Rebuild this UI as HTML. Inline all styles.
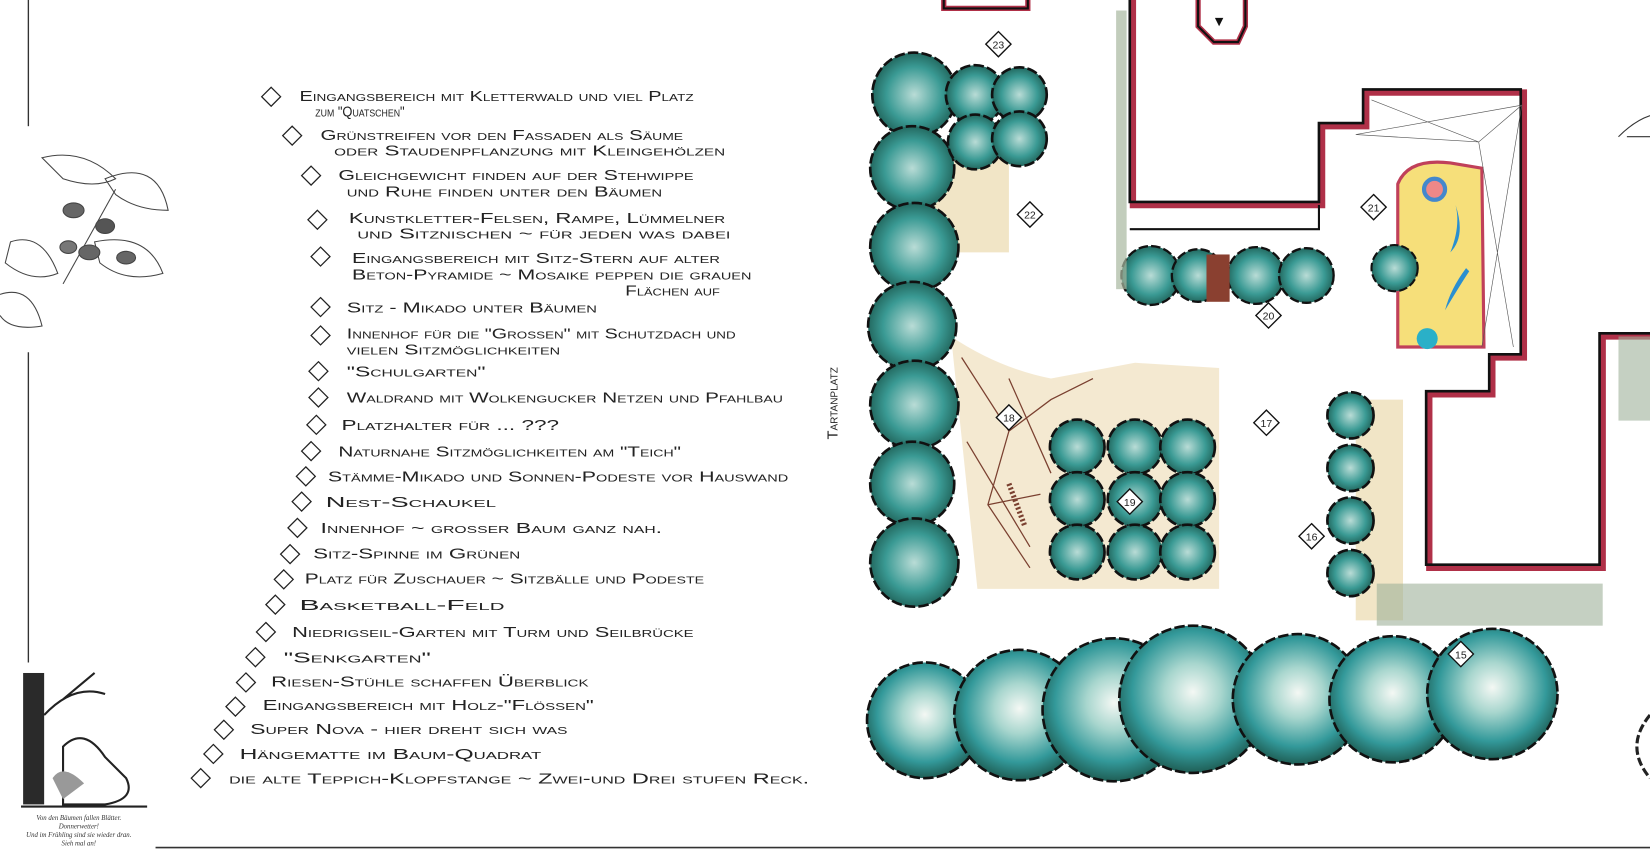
<!DOCTYPE html>
<html><head><meta charset="utf-8"><style>
html,body{margin:0;padding:0;background:#fff;}
svg{display:block}
.t{font-family:"Liberation Sans",sans-serif;font-size:14px;fill:#222;font-variant:small-caps}
.n{font-family:"Liberation Sans",sans-serif;font-size:10px;fill:#222}
</style></head><body>
<svg width="1650" height="857" viewBox="0 0 1570 815" preserveAspectRatio="none" xmlns="http://www.w3.org/2000/svg">
<defs>
<radialGradient id="tr" cx="50%" cy="45%" r="55%">
<stop offset="0" stop-color="#f4f8f4"/><stop offset="0.35" stop-color="#a8d6ce"/><stop offset="0.75" stop-color="#33999a"/><stop offset="1" stop-color="#1f5e55"/></radialGradient>
<radialGradient id="tr2" cx="50%" cy="50%" r="55%">
<stop offset="0" stop-color="#b9dcd6"/><stop offset="0.6" stop-color="#3a9a94"/><stop offset="1" stop-color="#1c5a50"/></radialGradient>
</defs>
<rect width="1570" height="815" fill="#fff"/>
<line x1="27" y1="0" x2="27" y2="120" stroke="#333" stroke-width="1.3"/>
<line x1="27" y1="335" x2="27" y2="630" stroke="#333" stroke-width="1.3"/>
<line x1="148" y1="806" x2="1570" y2="806" stroke="#333" stroke-width="1.5"/>
<g stroke="#444" fill="none" stroke-width="1">
<path d="M40 150 Q80 140 110 170 Q90 180 60 170Z"/><path d="M100 170 Q150 150 160 200 Q130 200 110 185Z"/>
<path d="M10 230 Q40 220 55 260 Q30 270 5 250Z"/><path d="M0 280 Q30 270 40 310 Q10 315 0 300"/>
<path d="M90 230 Q140 220 155 260 Q120 270 95 250Z"/><path d="M60 270 L110 180"/>
<ellipse cx="70" cy="200" rx="10" ry="7" fill="#666"/><ellipse cx="85" cy="240" rx="10" ry="7" fill="#666"/><ellipse cx="100" cy="215" rx="9" ry="7" fill="#555"/><ellipse cx="65" cy="235" rx="8" ry="6" fill="#777"/><ellipse cx="120" cy="245" rx="9" ry="6" fill="#666"/>
</g>
<rect x="22" y="640" width="20" height="125" fill="#2a2a2a"/>
<path d="M42 680 Q70 650 100 660 M60 665 L90 640" stroke="#222" stroke-width="2" fill="none"/>
<path d="M60 710 Q80 690 100 720 L120 740 Q130 760 100 765 L60 765Z" fill="#fff" stroke="#222" stroke-width="2"/>
<path d="M50 740 Q60 725 80 745 L60 760Z" fill="#999"/>
<line x1="20" y1="767" x2="140" y2="767" stroke="#222" stroke-width="2"/>
<text x="75" y="780" text-anchor="middle" font-family="Liberation Serif" font-style="italic" font-size="6.5" fill="#333">Von den Bäumen fallen Blätter.</text>
<text x="75" y="788" text-anchor="middle" font-family="Liberation Serif" font-style="italic" font-size="6.5" fill="#333">Donnerwetter!</text>
<text x="75" y="796" text-anchor="middle" font-family="Liberation Serif" font-style="italic" font-size="6.5" fill="#333">Und im Frühling sind sie wieder dran.</text>
<text x="75" y="804" text-anchor="middle" font-family="Liberation Serif" font-style="italic" font-size="6.5" fill="#333">Sieh mal an!</text>
<g>
<g fill="none" stroke="#222" stroke-width="1.2">
<path d="M258 83 l9 9 -9 9 -9 -9z"/><path d="M278 120 l9 9 -9 9 -9 -9z"/><path d="M296 158 l9 9 -9 9 -9 -9z"/><path d="M302 200 l9 9 -9 9 -9 -9z"/><path d="M305 235 l9 9 -9 9 -9 -9z"/><path d="M305 283 l9 9 -9 9 -9 -9z"/><path d="M305 310 l9 9 -9 9 -9 -9z"/><path d="M303 344 l9 9 -9 9 -9 -9z"/><path d="M303 369 l9 9 -9 9 -9 -9z"/><path d="M301 395 l9 9 -9 9 -9 -9z"/><path d="M296 420 l9 9 -9 9 -9 -9z"/><path d="M291 444 l9 9 -9 9 -9 -9z"/><path d="M287 468 l9 9 -9 9 -9 -9z"/><path d="M283 493 l9 9 -9 9 -9 -9z"/><path d="M276 518 l9 9 -9 9 -9 -9z"/><path d="M270 542 l9 9 -9 9 -9 -9z"/><path d="M262 566 l9 9 -9 9 -9 -9z"/><path d="M253 592 l9 9 -9 9 -9 -9z"/><path d="M243 616 l9 9 -9 9 -9 -9z"/><path d="M234 640 l9 9 -9 9 -9 -9z"/><path d="M224 663 l9 9 -9 9 -9 -9z"/><path d="M213 685 l9 9 -9 9 -9 -9z"/><path d="M203 708 l9 9 -9 9 -9 -9z"/><path d="M191 731 l9 9 -9 9 -9 -9z"/>
</g>
<text class="t" x="285" y="96" textLength="375" lengthAdjust="spacingAndGlyphs">Eingangsbereich mit Kletterwald und viel Platz</text>
<text class="t" x="300" y="111" textLength="85" lengthAdjust="spacingAndGlyphs">zum "Quatschen"</text>
<text class="t" x="305" y="133" textLength="345" lengthAdjust="spacingAndGlyphs">Grünstreifen vor den Fassaden als Säume</text>
<text class="t" x="318" y="148" textLength="372" lengthAdjust="spacingAndGlyphs">oder Staudenpflanzung mit Kleingehölzen</text>
<text class="t" x="322" y="171" textLength="338" lengthAdjust="spacingAndGlyphs">Gleichgewicht finden auf der Stehwippe</text>
<text class="t" x="330" y="187" textLength="300" lengthAdjust="spacingAndGlyphs">und Ruhe finden unter den Bäumen</text>
<text class="t" x="332" y="212" textLength="358" lengthAdjust="spacingAndGlyphs">Kunstkletter-Felsen, Rampe, Lümmelner</text>
<text class="t" x="340" y="227" textLength="355" lengthAdjust="spacingAndGlyphs">und Sitznischen ~ für jeden was dabei</text>
<text class="t" x="335" y="250" textLength="350" lengthAdjust="spacingAndGlyphs">Eingangsbereich mit Sitz-Stern auf alter</text>
<text class="t" x="335" y="266" textLength="380" lengthAdjust="spacingAndGlyphs">Beton-Pyramide ~ Mosaike peppen die grauen</text>
<text class="t" x="595" y="281" textLength="90" lengthAdjust="spacingAndGlyphs">Flächen auf</text>
<text class="t" x="330" y="297" textLength="238" lengthAdjust="spacingAndGlyphs">Sitz - Mikado unter Bäumen</text>
<text class="t" x="330" y="322" textLength="370" lengthAdjust="spacingAndGlyphs">Innenhof für die "Grossen" mit Schutzdach und</text>
<text class="t" x="330" y="337" textLength="203" lengthAdjust="spacingAndGlyphs">vielen Sitzmöglichkeiten</text>
<text class="t" x="330" y="358" textLength="132" lengthAdjust="spacingAndGlyphs">"Schulgarten"</text>
<text class="t" x="330" y="383" textLength="415" lengthAdjust="spacingAndGlyphs">Waldrand mit Wolkengucker Netzen und Pfahlbau</text>
<text class="t" x="325" y="409" textLength="207" lengthAdjust="spacingAndGlyphs">Platzhalter für ... ???</text>
<text class="t" x="322" y="434" textLength="326" lengthAdjust="spacingAndGlyphs">Naturnahe Sitzmöglichkeiten am "Teich"</text>
<text class="t" x="312" y="458" textLength="438" lengthAdjust="spacingAndGlyphs">Stämme-Mikado und Sonnen-Podeste vor Hauswand</text>
<text class="t" x="310" y="482" textLength="162" lengthAdjust="spacingAndGlyphs">Nest-Schaukel</text>
<text class="t" x="305" y="507" textLength="325" lengthAdjust="spacingAndGlyphs">Innenhof ~ grosser Baum ganz nah.</text>
<text class="t" x="298" y="531" textLength="197" lengthAdjust="spacingAndGlyphs">Sitz-Spinne im Grünen</text>
<text class="t" x="290" y="555" textLength="380" lengthAdjust="spacingAndGlyphs">Platz für Zuschauer ~ Sitzbälle und Podeste</text>
<text class="t" x="285" y="580" textLength="195" lengthAdjust="spacingAndGlyphs">Basketball-Feld</text>
<text class="t" x="278" y="606" textLength="382" lengthAdjust="spacingAndGlyphs">Niedrigseil-Garten mit Turm und Seilbrücke</text>
<text class="t" x="270" y="630" textLength="140" lengthAdjust="spacingAndGlyphs">"Senkgarten"</text>
<text class="t" x="258" y="653" textLength="302" lengthAdjust="spacingAndGlyphs">Riesen-Stühle schaffen Überblick</text>
<text class="t" x="250" y="675" textLength="315" lengthAdjust="spacingAndGlyphs">Eingangsbereich mit Holz-"Flössen"</text>
<text class="t" x="238" y="698" textLength="302" lengthAdjust="spacingAndGlyphs">Super Nova - hier dreht sich was</text>
<text class="t" x="228" y="722" textLength="287" lengthAdjust="spacingAndGlyphs">Hängematte im Baum-Quadrat</text>
<text class="t" x="218" y="745" textLength="552" lengthAdjust="spacingAndGlyphs">die alte Teppich-Klopfstange ~ Zwei-und Drei stufen Reck.</text>
</g>
<text class="t" x="0" y="0" transform="translate(797 418) rotate(-90)" font-size="12">Tartanplatz</text>
<path d="M905 320 Q950 350 1000 360 L1080 345 L1160 350 L1160 560 L930 560 Z" fill="#f3e7cc" opacity="0.9"/>
<path d="M880 150 L960 150 L960 240 L880 240Z" fill="#f1e5c6"/>
<path d="M1290 380 L1335 380 L1335 590 L1290 590Z" fill="#f1e5c6"/>
<g fill="none" stroke-linejoin="miter">
<path d="M898 0 L898 8 L978 8 L978 0" stroke="#b03048" stroke-width="5"/>
<path d="M898 0 L898 8 L978 8 L978 0" stroke="#111" stroke-width="2"/>
<path d="M1078 0 L1078 195 L1258 195 L1258 120 L1300 120 L1300 88 L1450 88 L1450 340 L1420 340 L1420 375 L1360 375 L1360 540 L1525 540 L1525 320 L1570 320" stroke="#b03048" stroke-width="6"/>
<path d="M1075 0 L1075 192 L1255 192 L1255 117 L1297 117 L1297 85 L1447 85 L1447 337 L1417 337 L1417 372 L1357 372 L1357 537 L1522 537 L1522 317 L1570 317" stroke="#111" stroke-width="2.5"/>
<path d="M1140 0 L1140 25 L1155 40 L1178 40 L1185 25 L1185 0" stroke="#b03048" stroke-width="5"/>
<path d="M1140 0 L1140 25 L1155 40 L1178 40 L1185 25 L1185 0" stroke="#111" stroke-width="2"/>
<path d="M1075 218 L1255 218 L1255 195" stroke="#111" stroke-width="2"/>
</g>
<path d="M1160 25 l-4 -8 8 0z" fill="#111"/>
<path d="M1330 175 Q1340 150 1380 155 L1410 160 L1412 330 L1330 330Z" fill="#f6df7a" stroke="#c0405a" stroke-width="3"/>
<circle cx="1365" cy="180" r="10" fill="#e88" stroke="#48c" stroke-width="4"/>
<path d="M1385 195 Q1395 225 1380 240 Q1390 215 1385 195Z M1395 255 Q1380 275 1375 295 Q1390 270 1398 258Z" fill="#2a8fd0"/>
<circle cx="1358" cy="322" r="10" fill="#2ab0c8"/>
<g stroke="#555" stroke-width="0.6" fill="none"><path d="M1290 128 L1448 100 L1407 135 L1290 128 M1305 95 L1407 135 L1440 330 M1448 100 L1410 330"/></g>
<circle cx="1327" cy="255" r="22" fill="url(#tr2)" stroke="#111" stroke-width="2" stroke-dasharray="8 3"/>
<g stroke="#111" stroke-width="2.2" stroke-dasharray="9 3">
<circle cx="1095" cy="262" r="28" fill="url(#tr2)"/><circle cx="1140" cy="262" r="25" fill="url(#tr2)"/><circle cx="1195" cy="262" r="27" fill="url(#tr2)"/><circle cx="1243" cy="262" r="26" fill="url(#tr2)"/>
</g>
<rect x="1148" y="242" width="22" height="45" fill="#8a4030"/>
<rect x="1062" y="10" width="10" height="265" fill="#a8b8a0" opacity="0.7"/>
<g stroke="#111" stroke-width="2.5" stroke-dasharray="10 3">
<circle cx="870" cy="90" r="40" fill="url(#tr2)"/><circle cx="868" cy="160" r="40" fill="url(#tr2)"/><circle cx="870" cy="235" r="42" fill="url(#tr2)"/><circle cx="868" cy="310" r="42" fill="url(#tr2)"/><circle cx="870" cy="385" r="42" fill="url(#tr2)"/><circle cx="868" cy="460" r="40" fill="url(#tr2)"/><circle cx="870" cy="535" r="42" fill="url(#tr2)"/>
<circle cx="928" cy="90" r="28" fill="url(#tr2)"/><circle cx="970" cy="90" r="26" fill="url(#tr2)"/><circle cx="928" cy="135" r="26" fill="url(#tr2)"/><circle cx="970" cy="132" r="26" fill="url(#tr2)"/>
<circle cx="1025" cy="425" r="26" fill="url(#tr2)"/><circle cx="1080" cy="425" r="26" fill="url(#tr2)"/><circle cx="1130" cy="425" r="26" fill="url(#tr2)"/>
<circle cx="1025" cy="475" r="26" fill="url(#tr2)"/><circle cx="1080" cy="475" r="26" fill="url(#tr2)"/><circle cx="1130" cy="475" r="26" fill="url(#tr2)"/>
<circle cx="1025" cy="525" r="26" fill="url(#tr2)"/><circle cx="1080" cy="525" r="26" fill="url(#tr2)"/><circle cx="1130" cy="525" r="26" fill="url(#tr2)"/>
<circle cx="1285" cy="395" r="22" fill="url(#tr2)"/><circle cx="1285" cy="445" r="22" fill="url(#tr2)"/><circle cx="1285" cy="495" r="22" fill="url(#tr2)"/><circle cx="1285" cy="545" r="22" fill="url(#tr2)"/>
<circle cx="880" cy="685" r="55" fill="url(#tr)"/><circle cx="970" cy="680" r="62" fill="url(#tr)"/><circle cx="1060" cy="675" r="68" fill="url(#tr)"/><circle cx="1135" cy="665" r="70" fill="url(#tr)"/><circle cx="1235" cy="665" r="62" fill="url(#tr)"/><circle cx="1325" cy="665" r="60" fill="url(#tr)"/><circle cx="1420" cy="660" r="62" fill="url(#tr)"/>
</g>
<g stroke="#7a4030" stroke-width="1.2" fill="none">
<path d="M915 340 L960 410 L940 480 L980 540 M960 410 L1000 380 L1040 360 M940 480 L990 470 M920 420 L980 520 M960 360 L1000 450"/>
<path d="M960 460 L975 500" stroke-width="5" stroke-dasharray="2 2"/>
</g>
<rect x="1310" y="555" width="215" height="40" fill="#9fb09a" opacity="0.6"/>
<g fill="#fff" stroke="#111" stroke-width="1.3">
<path d="M950 30 l12 12 -12 12 -12 -12z"/><path d="M980 192 l12 12 -12 12 -12 -12z"/><path d="M1207 288 l12 12 -12 12 -12 -12z"/><path d="M1307 185 l12 12 -12 12 -12 -12z"/><path d="M960 385 l12 12 -12 12 -12 -12z"/><path d="M1075 465 l12 12 -12 12 -12 -12z"/><path d="M1205 390 l12 12 -12 12 -12 -12z"/><path d="M1248 498 l12 12 -12 12 -12 -12z"/><path d="M1390 610 l12 12 -12 12 -12 -12z"/>
</g>
<g text-anchor="middle">
<text x="950" y="46" class="n">23</text><text x="980" y="208" class="n">22</text><text x="1207" y="304" class="n">20</text><text x="1307" y="201" class="n">21</text><text x="960" y="401" class="n">18</text><text x="1075" y="481" class="n">19</text><text x="1205" y="406" class="n">17</text><text x="1248" y="514" class="n">16</text><text x="1390" y="626" class="n">15</text>
</g>
<path d="M1540 130 Q1555 115 1570 110 M1548 130 L1570 130" stroke="#333" fill="none"/>
<rect x="1540" y="320" width="30" height="80" fill="#9fb09a" opacity="0.6"/>
<path d="M1570 680 Q1545 710 1570 740" stroke="#222" stroke-width="3" fill="none" stroke-dasharray="8 3"/>
</svg>
</body></html>
